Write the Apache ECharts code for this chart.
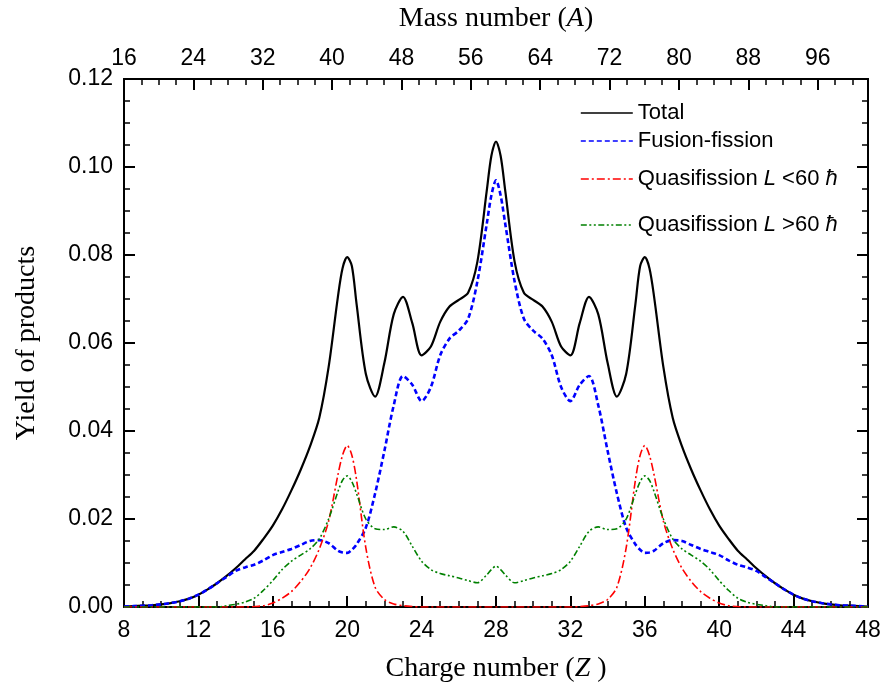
<!DOCTYPE html>
<html>
<head>
<meta charset="utf-8">
<script src="https://cdn.jsdelivr.net/npm/echarts@6/dist/echarts.min.js"></script>
<style>
  html, body { margin: 0; padding: 0; background: #fff; }
  #chart { width: 885px; height: 689px; }
</style>
</head>
<body>
<div id="chart"></div>
<script>
// charge number Z (x positions of the curves)
const zValues = [
  8, 8.5, 9, 9.5, 10, 10.5, 11, 11.5, 12, 12.5, 13, 13.5, 14, 14.5, 15, 15.5, 16, 16.5, 17, 17.5,
  18, 18.5, 19, 19.5, 19.75, 20, 20.25, 20.5, 21, 21.5, 22, 22.5, 23, 23.5, 24, 24.5, 25, 25.5, 26, 26.5, 27, 27.5, 27.75,
  28,
  28.25, 28.5, 29, 29.5, 30, 30.5, 31, 31.5, 32, 32.5, 33, 33.5, 34, 34.5, 35, 35.5, 35.75, 36, 36.25, 36.5, 37, 37.5, 38,
  38.5, 39, 39.5, 40, 40.5, 41, 41.5, 42, 42.5, 43, 43.5, 44, 44.5, 45, 45.5, 46, 46.5, 47, 47.5, 48
];

const totalYield = [
  0.0001, 0.0002, 0.0003, 0.0004, 0.0006, 0.0009, 0.0013, 0.0019, 0.0028, 0.0040, 0.0054, 0.0070, 0.0088, 0.0108, 0.0128, 0.0155, 0.0185, 0.0222, 0.0265, 0.0312,
  0.0365, 0.0430, 0.0545, 0.0705, 0.0770, 0.0795, 0.0775, 0.0690, 0.0530, 0.0478, 0.0555, 0.0665, 0.0705, 0.0645, 0.0572, 0.0592, 0.0648, 0.0683, 0.0698, 0.0714, 0.0785, 0.0945, 0.1025,
  0.1058,
  0.1025, 0.0945, 0.0785, 0.0714, 0.0698, 0.0683, 0.0648, 0.0592, 0.0572, 0.0645, 0.0705, 0.0665, 0.0555, 0.0478, 0.0530, 0.0690, 0.0775, 0.0795, 0.0770, 0.0705, 0.0545, 0.0430, 0.0365,
  0.0312, 0.0265, 0.0222, 0.0185, 0.0155, 0.0128, 0.0108, 0.0088, 0.0070, 0.0054, 0.0040, 0.0028, 0.0019, 0.0013, 0.0009, 0.0006, 0.0004, 0.0003, 0.0002, 0.0001
];

const fusionFission = [
  0.0001, 0.0002, 0.0003, 0.0004, 0.0006, 0.0009, 0.0013, 0.0019, 0.0028, 0.0040, 0.0054, 0.0068, 0.0082, 0.0090, 0.0096, 0.0106, 0.0118, 0.0125, 0.0132, 0.0141,
  0.0150, 0.0152, 0.0145, 0.0128, 0.0124, 0.0123, 0.0130, 0.0142, 0.0180, 0.0258, 0.0355, 0.0458, 0.0525, 0.0505, 0.0468, 0.0500, 0.0572, 0.0610, 0.0628, 0.0655, 0.0740, 0.0870, 0.0935,
  0.0970,
  0.0935, 0.0870, 0.0740, 0.0655, 0.0628, 0.0610, 0.0572, 0.0500, 0.0468, 0.0505, 0.0525, 0.0458, 0.0355, 0.0258, 0.0180, 0.0142, 0.0130, 0.0123, 0.0124, 0.0128, 0.0145, 0.0152, 0.0150,
  0.0141, 0.0132, 0.0125, 0.0118, 0.0106, 0.0096, 0.0090, 0.0082, 0.0068, 0.0054, 0.0040, 0.0028, 0.0019, 0.0013, 0.0009, 0.0006, 0.0004, 0.0003, 0.0002, 0.0001
];

const quasiLow = [
  0, 0, 0, 0, 0, 0, 0, 0, 0, 0, 0, 0, 0, 0, 0.0001, 0.0003, 0.0009, 0.0020, 0.0035, 0.0058,
  0.0088, 0.0132, 0.0195, 0.0300, 0.0345, 0.0367, 0.0345, 0.0290, 0.0135, 0.0045, 0.0017, 0.0007, 0.0003, 0.0001, 0, 0, 0, 0, 0, 0, 0, 0, 0,
  0,
  0, 0, 0, 0, 0, 0, 0, 0, 0, 0.0001, 0.0003, 0.0007, 0.0017, 0.0045, 0.0135, 0.0290, 0.0345, 0.0367, 0.0345, 0.0300, 0.0195, 0.0132, 0.0088,
  0.0058, 0.0035, 0.0020, 0.0009, 0.0003, 0.0001, 0, 0, 0, 0, 0, 0, 0, 0, 0, 0, 0, 0, 0, 0
];

const quasiHigh = [
  0, 0, 0, 0, 0, 0, 0, 0, 0, 0, 0, 0.0003, 0.0006, 0.0011, 0.0020, 0.0038, 0.0060, 0.0085, 0.0104, 0.0118,
  0.0132, 0.0155, 0.0200, 0.0262, 0.0288, 0.0298, 0.0285, 0.0258, 0.0200, 0.0178, 0.0176, 0.0182, 0.0172, 0.0138, 0.0104, 0.0085, 0.0076, 0.0071, 0.0066, 0.0060, 0.0055, 0.0073, 0.0085,
  0.0093,
  0.0085, 0.0073, 0.0055, 0.0060, 0.0066, 0.0071, 0.0076, 0.0085, 0.0104, 0.0138, 0.0172, 0.0182, 0.0176, 0.0178, 0.0200, 0.0258, 0.0285, 0.0298, 0.0288, 0.0262, 0.0200, 0.0155, 0.0132,
  0.0118, 0.0104, 0.0085, 0.0060, 0.0038, 0.0020, 0.0011, 0.0006, 0.0003, 0, 0, 0, 0, 0, 0, 0, 0, 0, 0, 0
];

const seriesNames = ['Total', 'Fusion-fission', 'Quasifission L <60 ħ', 'Quasifission L >60 ħ'];
const legendTops = [102, 130, 168, 214];

const chart = echarts.init(document.getElementById('chart'));

const sansFont = 'Liberation Sans, Arial, sans-serif';
const serifFont = 'Liberation Serif, Times New Roman, serif';
const axisLine = { show: true, onZero: false, lineStyle: { color: '#000', width: 2 } };
const majorTick = { show: true, inside: true, length: 11, lineStyle: { color: '#000', width: 2 } };
const minorTick = { show: true, splitNumber: 4, length: 6, lineStyle: { color: '#000', width: 1.5 } };
const tickLabel = { fontFamily: sansFont, fontSize: 23, color: '#000' };
const titleStyle = {
  fontFamily: serifFont, fontSize: 28, color: '#000',
  rich: { i: { fontFamily: serifFont, fontSize: 28, fontStyle: 'italic', color: '#000' } }
};

const pairs = (arr) => zValues.map((z, i) => [z, arr[i]]);

const option = {
  animation: false,
  backgroundColor: '#fff',
  grid: { left: 124, right: 17, top: 79, bottom: 82 },
  legend: seriesNames.map((name, i) => ({
    data: [name],
    left: 580,
    top: legendTops[i],
    padding: 0,
    itemWidth: 52,
    itemHeight: 14,
    itemStyle: { opacity: 0 },
    lineStyle: { width: 1.6 },
    formatter: (n) => n.replace(' L ', ' {i|L} ').replace('ħ', '{i|ħ}'),
    textStyle: {
      fontFamily: sansFont, fontSize: 22, color: '#000',
      rich: { i: { fontFamily: sansFont, fontSize: 22, fontStyle: 'italic', color: '#000' } }
    }
  })),
  xAxis: [
    {
      type: 'value', position: 'bottom', min: 8, max: 48, interval: 4,
      name: 'Charge number ({i|Z} )', nameLocation: 'middle', nameGap: 48, nameTextStyle: titleStyle,
      axisLine, axisTick: majorTick, minorTick,
      axisLabel: { ...tickLabel, margin: 12 },
      splitLine: { show: false }
    },
    {
      type: 'value', position: 'top', min: 16, max: 101.8, interval: 8,
      name: 'Mass number ({i|A})', nameLocation: 'middle', nameGap: 46, nameTextStyle: titleStyle,
      axisLine, axisTick: majorTick,
      axisLabel: { ...tickLabel, margin: 9, showMaxLabel: false },
      splitLine: { show: false }
    },
    {
      type: 'value', position: 'top', min: 16, max: 101.8, interval: 2,
      axisLine, axisTick: { ...majorTick, length: 6, lineStyle: { color: '#000', width: 1.5 } },
      axisLabel: { show: false },
      splitLine: { show: false }
    }
  ],
  yAxis: [
    {
      type: 'value', position: 'left', min: 0, max: 0.12, interval: 0.02,
      name: 'Yield of products', nameLocation: 'middle', nameGap: 83, nameTextStyle: titleStyle,
      axisLine, axisTick: majorTick, minorTick,
      axisLabel: { ...tickLabel, margin: 11, formatter: (v) => v.toFixed(2) },
      splitLine: { show: false }
    },
    {
      type: 'value', position: 'right', min: 0, max: 0.12, interval: 0.02,
      axisLine, axisTick: majorTick, minorTick,
      axisLabel: { show: false },
      splitLine: { show: false }
    }
  ],
  series: [
    {
      name: seriesNames[0], type: 'line', data: pairs(totalYield), smooth: 0.3,
      symbol: 'none', lineStyle: { color: '#000', width: 2.2 }, itemStyle: { color: '#000' }
    },
    {
      name: seriesNames[1], type: 'line', data: pairs(fusionFission), smooth: 0.3,
      symbol: 'none', lineStyle: { color: '#0000ff', width: 2.6, type: [5, 3] }, itemStyle: { color: '#0000ff' }
    },
    {
      name: seriesNames[2], type: 'line', data: pairs(quasiLow), smooth: 0.3,
      symbol: 'none', lineStyle: { color: '#ff0000', width: 1.6, type: [8, 3, 2, 3] }, itemStyle: { color: '#ff0000' }
    },
    {
      name: seriesNames[3], type: 'line', data: pairs(quasiHigh), smooth: 0.3,
      symbol: 'none', lineStyle: { color: '#008000', width: 1.6, type: [6, 2.5, 2, 2.5, 2, 2.5] }, itemStyle: { color: '#008000' }
    }
  ]
};

chart.setOption(option);
</script>
</body>
</html>
